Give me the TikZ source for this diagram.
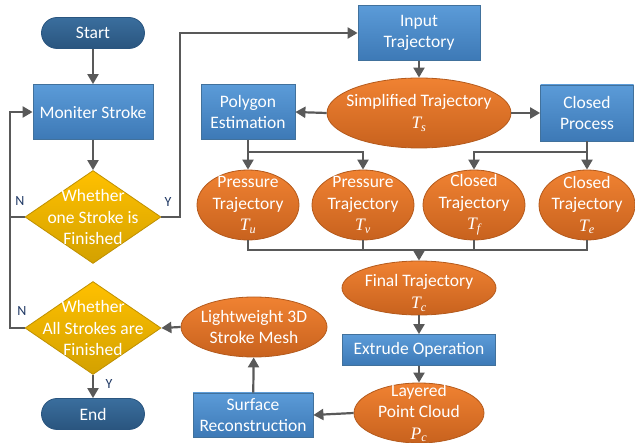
\documentclass[tikz,border=0pt]{standalone}
\usepackage{fontspec}
\setmainfont{Carlito}
\newfontfamily\tnrfont{Liberation Serif}
\newcommand\TSym[2]{{\tnrfont\itshape #1\textsubscript{#2}}}
\usetikzlibrary{shapes.geometric,arrows.meta}
\definecolor{bluetop}{HTML}{5B9BD8}
\definecolor{bluebot}{HTML}{3D79B6}
\definecolor{blueedge}{HTML}{41719C}
\definecolor{orgtop}{HTML}{F08232}
\definecolor{orgbot}{HTML}{C8621E}
\definecolor{orgedge}{HTML}{B45A1C}
\definecolor{goldtop}{HTML}{FFC000}
\definecolor{goldbot}{HTML}{D3A100}
\definecolor{goldedge}{HTML}{BF9000}
\definecolor{termtop}{HTML}{3A6E9E}
\definecolor{termbot}{HTML}{2A557F}
\definecolor{linegray}{HTML}{595959}
\definecolor{lblblue}{HTML}{1F3864}
\begin{document}
\begin{tikzpicture}[x=1pt,y=-1pt,
  txt/.style={text=white,align=center,font=\fontsize{17.5}{21.5}\selectfont},
  procbox/.style={rectangle,draw=blueedge,line width=0.8pt,top color=bluetop,bottom color=bluebot,txt,inner sep=0pt},
  termbox/.style={rectangle,rounded corners=15.5pt,draw=termbot,line width=0.8pt,top color=termtop,bottom color=termbot,txt,minimum width=103pt,minimum height=31pt,inner sep=0pt},
  oval/.style={ellipse,draw=orgedge,line width=0.8pt,top color=orgtop,bottom color=orgbot,inner sep=0pt},
  dec/.style={diamond,draw=goldedge,line width=0.8pt,top color=goldtop,bottom color=goldbot,inner sep=0pt,minimum width=136pt,minimum height=93pt},
  inlbl/.style={txt},
  conn/.style={draw=linegray,line width=2.2pt},
  arr/.style={conn,-{Triangle[length=10pt,width=11pt]}},
  yn/.style={text=lblblue,font=\fontsize{14}{14}\selectfont}
]
\useasboundingbox (0,0) rectangle (635,443);

% left column
\node[termbox] (start) at (93,33) {Start};
\node[procbox,minimum width=120pt,minimum height=55pt] (mon) at (93,112) {Moniter Stroke};
\node[dec,label={[inlbl]center:{Whether\\one Stroke is\\Finished}}] (d1) at (93,217) {};
\node[dec,label={[inlbl]center:{Whether\\All Strokes are\\Finished}}] (d2) at (93,328) {};
\node[termbox] (end) at (93,414) {End};

% right part
\node[procbox,minimum width=122pt,minimum height=55pt] (input) at (419,33) {Input\\Trajectory};
\node[oval,minimum width=184pt,minimum height=70pt,label={[inlbl]center:{Simplified Trajectory\\\TSym{T}{s}}}] (simp) at (419,113) {};
\node[procbox,minimum width=94pt,minimum height=55pt] (poly) at (248,112) {Polygon\\Estimation};
\node[procbox,minimum width=93pt,minimum height=56pt] (closed) at (587,113) {Closed\\Process};

\node[oval,minimum width=102pt,minimum height=70pt,label={[inlbl]center:{Pressure\\Trajectory\\\TSym{T}{u}}}] (tu) at (248,205) {};
\node[oval,minimum width=102pt,minimum height=70pt,label={[inlbl]center:{Pressure\\Trajectory\\\TSym{T}{v}}}] (tv) at (363,205) {};
\node[oval,minimum width=102pt,minimum height=70pt,label={[inlbl]center:{Closed\\Trajectory\\\TSym{T}{f}}}] (tf) at (474,205) {};
\node[oval,minimum width=96pt,minimum height=70pt,label={[inlbl]center:{Closed\\Trajectory\\\TSym{T}{e}}}] (te) at (587,205) {};

\node[oval,minimum width=154pt,minimum height=54pt,label={[inlbl,yshift=-5pt]center:{Final Trajectory\\\TSym{T}{c}}}] (final) at (419,288) {};
\node[procbox,minimum width=153pt,minimum height=31pt] (extr) at (419,350) {Extrude Operation};
\node[oval,minimum width=130pt,minimum height=60pt,label={[inlbl]center:{Layered\\Point Cloud\\\TSym{P}{c}}}] (layer) at (419,413) {};
\node[procbox,minimum width=120pt,minimum height=44pt] (surf) at (253,415) {Surface\\Reconstruction};
\node[oval,minimum width=146pt,minimum height=60pt,label={[inlbl]center:{Lightweight 3D\\Stroke Mesh}}] (mesh) at (254,327) {};

% coordinates for routing
\coordinate (loopA) at (10,217);
\coordinate (yA) at (180,217);
\coordinate (pb) at (248,152);
\coordinate (cb) at (587,152);
\coordinate (mb) at (419,250);

% connectors left
\draw[arr] (start) -- (mon);
\draw[arr] (mon) -- (d1);
\draw[arr] (d1.west) -- (loopA) |- (mon.west);
\draw[conn] (d2.west) -| (loopA);
\draw[arr] (d1.east) -- (yA) |- (input.west);
\draw[arr] (d2) -- (end);

\node[yn] (n1) at (20,201) {N};
\node[yn] (n2) at (22,311) {N};
\node[yn] (y1) at (168,202) {Y};
\node[yn] (y2) at (109,384) {Y};

% connectors right
\draw[arr] (input) -- (simp);
\draw[arr] (simp.west) -- (poly.east);
\draw[arr] (simp.east) -- (closed.west);
\draw[conn] (poly.south) -- (pb);
\draw[arr] (pb) -- (tu.north);
\draw[arr] (pb) -| (tv.north);
\draw[conn] (closed.south) -- (cb);
\draw[arr] (cb) -- (te.north);
\draw[arr] (cb) -| (tf.north);
\draw[conn] (tu.south) |- (mb);
\draw[conn] (tv.south) |- (mb);
\draw[conn] (tf.south) |- (mb);
\draw[conn] (te.south) |- (mb);
\draw[arr] (mb) -- (final.north);
\draw[arr] (final) -- (extr);
\draw[arr] (extr) -- (layer);
\draw[arr] (layer.west) -- (surf.east);
\draw[arr] (surf) -- (mesh);
\draw[arr] (mesh.west) -- (d2.east);
\end{tikzpicture}
\end{document}
